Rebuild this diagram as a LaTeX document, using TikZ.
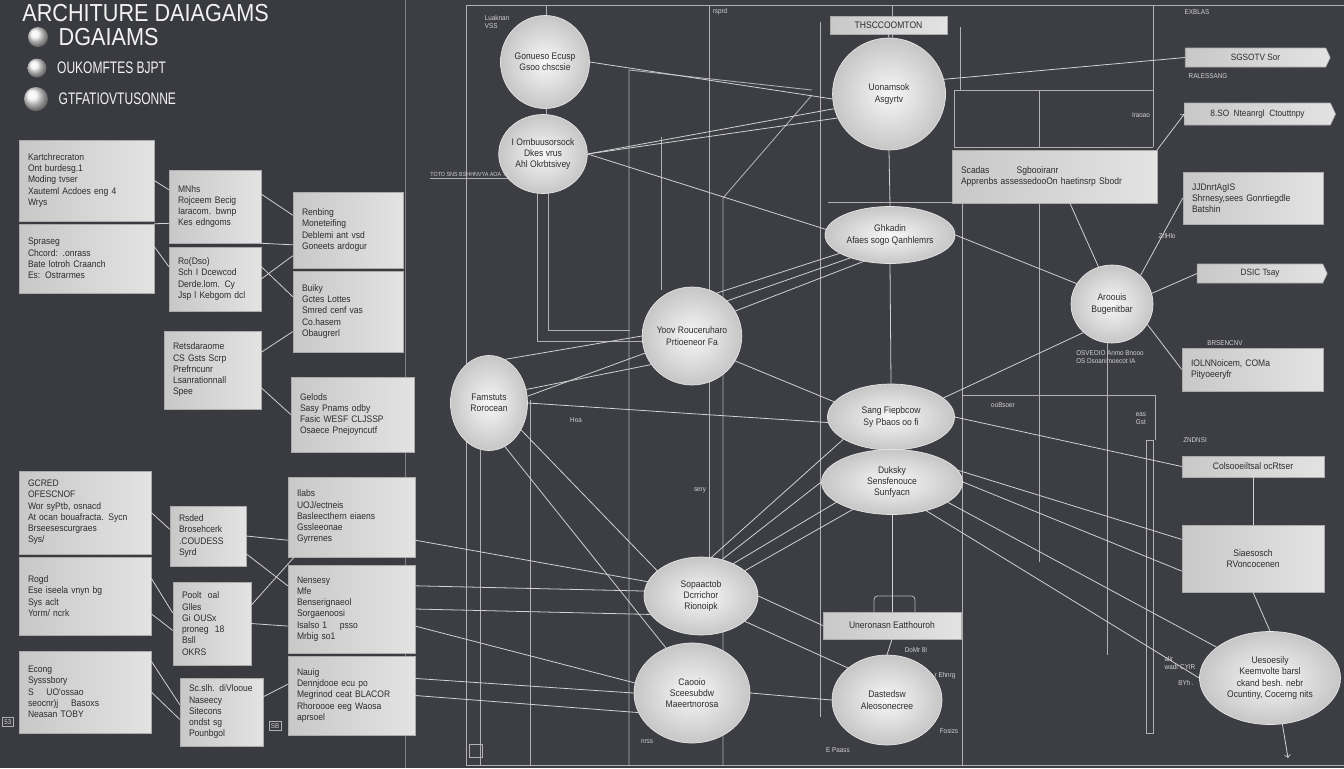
\documentclass[tikz,border=0pt]{standalone}
\usepackage{fontspec}
\setmainfont{Liberation Sans}
\newfontfamily\headfont[FakeStretch=0.88]{Liberation Sans}
\newfontfamily\bulletfont[FakeStretch=0.72]{Liberation Sans}
\newfontfamily\boxfont[FakeStretch=0.9]{Liberation Sans}
\usepackage{xcolor}
\usepackage{tikz}
\definecolor{bgdark}{HTML}{3A3B41}
\definecolor{bgright}{HTML}{3D3E44}
\definecolor{panelL}{HTML}{C8C8C8}
\definecolor{panelR}{HTML}{E3E3E3}
\definecolor{panelEdge}{HTML}{ABABAB}
\definecolor{inkdark}{HTML}{2C2C2C}
\definecolor{wirec}{HTML}{D2D2D2}
\definecolor{rulec}{HTML}{B0B0B6}
\definecolor{ballin}{HTML}{F7F7F7}
\definecolor{ballout}{HTML}{C6C6C6}
\usetikzlibrary{shapes.geometric, shapes.symbols, arrows, positioning, calc}

\begin{document}
\begin{tikzpicture}[
    x=0.02cm, y=-0.02cm,
    panel/.style={rectangle, draw=panelEdge, line width=0.3pt, left color=panelL, right color=panelR, text=inkdark, align=left, font=\boxfont\fontsize{5.4}{6.4}\selectfont, inner xsep=0.18cm, inner ysep=0.1cm},
    bar/.style={rectangle, draw=panelEdge, line width=0.3pt, left color=panelL, right color=panelR, text=inkdark, align=center, font=\boxfont\fontsize{5.4}{6.4}\selectfont, inner sep=0pt},
    tagbox/.style={signal, signal to=east, signal pointer angle=130, draw=panelEdge, line width=0.3pt, left color=panelL, right color=panelR, text=inkdark, font=\boxfont\fontsize{5.2}{6}\selectfont, inner sep=0pt},
    bubble/.style={ellipse, draw=white!80!gray, line width=0.4pt, inner color=ballin, outer color=ballout, text=inkdark, align=center, font=\boxfont\fontsize{5.4}{6.4}\selectfont, inner sep=0pt},
    dot/.style={circle, inner sep=0pt, shading=ball, ball color=gray!10},
    bullettext/.style={anchor=west, inner sep=0pt, text=white!90!gray, font=\bulletfont\fontsize{9.5}{10}\selectfont},
    tag/.style={text=wirec, font=\boxfont\fontsize{4}{4.6}\selectfont, inner sep=1pt, align=left},
    wire/.style={draw=wirec, line width=0.45pt},
    rule/.style={draw=rulec, line width=0.5pt}
]

\fill[bgdark] (0,0) rectangle (1344,768);
\useasboundingbox (0,0) rectangle (1344,768);
\fill[bgright] (405,0) rectangle (1344,768);

\draw[rule, draw=rulec!60!bgdark] (405,0) -- (405,768);
\draw[rule] (466,5) -- (1344,5);
\draw[rule] (466,5) -- (466,765) -- (1344,765);
\draw[rule] (480,450) -- (480,765);
\draw[rule] (530,400) -- (530,765);
\draw[rule] (546,5) -- (546,20);
\draw[rule] (546,100) -- (546,118);
\draw[rule] (537,190) -- (537,341) -- (648,341);
\draw[rule] (548,190) -- (548,330) -- (630,330);
\draw[rule] (629,765) -- (629,70) -- (812,90);
\draw[rule] (661,137) -- (661,290);
\draw[rule] (709,5) -- (709,557);
\draw[rule] (723,765) -- (723,198) -- (812,95);
\draw[rule] (820,22) -- (820,717);
\draw[rule] (892,5) -- (892,40);
\draw[rule] (828,202) -- (962,202) -- (962,765);
\draw[rule] (960,27) -- (960,90);
\draw[rule] (954,90) -- (1153,90);
\draw[rule] (954,90) -- (954,147) -- (1153,147);
\draw[rule] (1039,90) -- (1039,147);
\draw[rule] (1153,5) -- (1153,147);
\draw[rule] (1039,203) -- (1039,562);
\draw[rule] (962,395) -- (1155,395) -- (1155,440);
\draw[rule] (1107,343) -- (1107,655);
\draw[rule] (1146,440) rectangle (1153,733);
\draw[rule, rounded corners=2pt] (874,612) |- (915,596) -- (915,612);
\draw[rule] (430,178) -- (512,178);

\node[anchor=west, inner sep=0pt, text=white!90!gray, font=\headfont\fontsize{14}{15}\selectfont] (title) at (22,13) {ARCHITURE DAIAGAMS};
\node[dot, minimum size=0.4cm] (blt1) at (38,37) {};
\node[bullettext, font=\headfont\fontsize{14}{15}\selectfont, right=0.2cm of blt1] (dgaiams) {DGAIAMS};
\node[dot, minimum size=0.38cm] (blt2) at (37,68) {};
\node[bullettext, right=0.2cm of blt2] (oukomf) {OUKOMFTES BJPT};
\node[dot, minimum size=0.48cm] (blt3) at (36,99) {};
\node[bullettext, right=0.2cm of blt3] (gtfatio) {GTFATIOVTUSONNE};

\node[panel, text width=2.34cm, minimum height=1.62cm] (kartch) at (86.5,180.5) {Kartchrecraton\\ Ont burdesg.1\\ Moding tvser\\ Xauteml Acdoes eng 4\\ Wrys};
\node[panel, text width=2.34cm, minimum height=1.38cm] (spraseg) at (86.5,258.5) {Spraseg\\ Chcord: .onrass\\ Bate lotroh Craanch\\ Es: Ostrarmes};
\node[panel, text width=1.48cm, minimum height=1.46cm] (mnhs) at (215,206.5) {MNhs\\ Rojceem Becig\\ Iaracom. bwnp\\ Kes edngoms};
\node[panel, text width=1.48cm, minimum height=1.28cm] (rodso) at (215,279) {Ro(Dso)\\ Sch I Dcewcod\\ Derde.lom. Cy\\ Jsp l Kebgom dcl};
\node[panel, text width=1.84cm, minimum height=1.52cm] (renbing) at (348,230) {Renbing\\ Moneteifing\\ Deblemi ant vsd\\ Goneets ardogur};
\node[panel, text width=1.84cm, minimum height=1.62cm] (buiky) at (348,311.5) {Buiky\\ Gctes Lottes\\ Smred cenf vas\\ Co.hasem\\ Obaugrerl};
\node[panel, text width=1.58cm, minimum height=1.56cm] (retsdar) at (212.5,370) {Retsdaraome\\ CS Gsts Scrp\\ Prefrncunr\\ Lsanrationnall\\ Spee};
\node[panel, text width=2.10cm, minimum height=1.5cm] (gelods) at (352.5,414.5) {Gelods\\ Sasy Pnams odby\\ Fasic WESF CLJSSP\\ Osaece Pnejoyncutf};
\node[panel, text width=2.28cm, minimum height=1.66cm] (gcred) at (85,512.5) {GCRED\\ OFESCNOF\\ Wor syPtb, osnacd\\ At ocan bouafracta. Sycn\\ Brseesescurgraes\\ Sys/};
\node[panel, text width=2.28cm, minimum height=1.56cm] (rogd) at (85,596) {Rogd\\ Ese iseela vnyn bg\\ Sys aclt\\ Yorm/ ncrk};
\node[panel, text width=2.28cm, minimum height=1.64cm] (econg) at (85,692) {Econg\\ Sysssbory\\ S \quad UO'ossao\\ seocnr)j \quad Basoxs\\ Neasan TOBY};
\node[panel, text width=1.16cm, minimum height=1.2cm] (rsded) at (208,536) {Rsded\\ Brosehcerk\\ .COUDESS\\ Syrd};
\node[panel, text width=1.20cm, minimum height=1.66cm] (poolt) at (212,623.5) {Poolt \ oal\\ Glles\\ Gi OUSx\\ proneg \ 18\\ Bsll\\ OKRS};
\node[panel, text width=1.30cm, minimum height=1.36cm] (scslh) at (221.5,712) {Sc.slh. diVlooue\\ Naseecy\\ Sitecons\\ ondst sg\\ Pounbgol};
\node[panel, text width=2.18cm, minimum height=1.6cm] (ilabs) at (351.5,517) {Ilabs\\ UOJ/ectneis\\ Basleecthern eiaens\\ Gssleeonae\\ Gyrrenes};
\node[panel, text width=2.18cm, minimum height=1.76cm] (nensesy) at (351.5,609) {Nensesy\\ Mfe\\ Benserignaeol\\ Sorgaenoosi\\ Isalso 1 \quad psso\\ Mrbig so1};
\node[panel, text width=2.18cm, minimum height=1.58cm] (nauig) at (351.5,695.5) {Nauig\\ Dennjdooe ecu po\\ Megrinod ceat BLACOR\\ Rhoroooe eeg Waosa\\ aprsoel};

\node[bubble, minimum width=1.78cm, minimum height=1.86cm] (gonueso) at (545,62) {Gonueso Ecusp\\ Gsoo chscsie};
\node[bubble, minimum width=1.58cm, minimum height=1.58cm] (ornbuu) at (543,154) {I Ornbuusorsock\\ Dkes vrus\\ Ahl Okrbtsivey};
\node[bubble, minimum width=2.26cm, minimum height=2.24cm] (uonams) at (889,94) {Uonamsok\\ Asgyrtv};
\node[bubble, minimum width=2.6cm, minimum height=1.14cm] (ghkadin) at (890,235) {Ghkadin\\ Afaes sogo Qanhlemrs};
\node[bubble, minimum width=1.9cm, minimum height=1.96cm] (yoov) at (692,336) {Yoov Rouceruharo\\ Prtioeneor Fa};
\node[bubble, minimum width=1.54cm, minimum height=1.9cm] (famstuts) at (489,403) {Famstuts\\ Rorocean};
\node[bubble, minimum width=2.54cm, minimum height=1.32cm] (sangfie) at (891,417) {Sang Fiepbcow\\ Sy Pbaos oo fi};
\node[bubble, minimum width=2.82cm, minimum height=1.3cm] (duksky) at (892,482) {Duksky\\ Sensfenouce\\ Sunfyacn};
\node[bubble, minimum width=1.64cm, minimum height=1.56cm] (aroouis) at (1112,304) {Aroouis\\ Bugenitbar};
\node[bubble, minimum width=2.28cm, minimum height=1.56cm] (sopaac) at (701,596) {Sopaactob\\ Dcrrichor\\ Rionoipk};
\node[bubble, minimum width=2.32cm, minimum height=2.0cm] (caooio) at (692,693) {Caooio\\ Sceesubdw\\ Maeertnorosa};
\node[bubble, minimum width=2.2cm, minimum height=1.8cm] (dasted) at (887,700) {Dastedsw\\ Aleosonecree};
\node[bubble, minimum width=2.82cm, minimum height=1.86cm] (uesoes) at (1270,678) {Uesoesily\\ Keemvolte barsl\\ ckand besh. nebr\\ Ocuntiny, Cocerng nits};

\node[bar, minimum width=2.34cm, minimum height=0.36cm] (thscco) at (888.5,25) {THSCCOOMTON};
\node[panel, text width=3.74cm, minimum height=1.06cm] (scadas) at (1054.5,176.5) {Scadas \hspace{2.2em} Sgbooiranr\\ Apprenbs assessedooOn haetinsrp Sbodr};
\node[tagbox, minimum width=2.9cm, minimum height=0.38cm] (sgsotv) at (1255.5,57.5) {SGSOTV Sor};
\node[tagbox, minimum width=3.02cm, minimum height=0.44cm] (nteanr) at (1257.5,114) {8.SO \ Nteanrgl \ Ctouttnpy};
\node[panel, text width=2.44cm, minimum height=1.04cm] (jjdnrt) at (1253,198) {JJDnrtAgIS\\ Shrnesy,sees Gonrtiegdle\\ Batshin};
\node[tagbox, minimum width=2.6cm, minimum height=0.38cm] (dsic) at (1260,273.5) {DSIC Tsay};
\node[panel, text width=2.46cm, minimum height=0.86cm] (iolnn) at (1252.5,369.5) {IOLNNoicem, COMa\\ Pityoeeryfr};
\node[bar, minimum width=2.84cm, minimum height=0.42cm] (colsoo) at (1253,466.5) {Colsooeiltsal ocRtser};
\node[bar, minimum width=2.84cm, minimum height=1.34cm] (siaeso) at (1253,558.5) {Siaesosch\\ RVoncocenen};
\node[bar, minimum width=2.76cm, minimum height=0.54cm] (uneron) at (892,625.5) {Uneronasn Eatthouroh};

\node[tag] (tagluak) at (497,22) {Luaknan\\ VSS};
\node[tag] (tagrsprd) at (720,12) {rsprd};
\node[tag] (tagexblas) at (1197,12) {EXBLAS};
\node[tag] (tagrales) at (1208,76) {RALESSANG};
\node[tag] (tagirao) at (1141,115) {Iraoao};
\node[tag] (tagzrl) at (1167,236) {ZrlHlo};
\node[tag] (tagbrsen) at (1225,343) {BRSENCNV};
\node[tag] (tagosveo) at (1110,357) {OSVEOIO Anmo Bnooo\\ OS Dsoanimoecot IA};
\node[tag] (tagoobs) at (1003,405) {ooBsoer};
\node[tag] (tageas) at (1141,419) {eas\\ Gst};
\node[tag] (tagznd) at (1195,440) {ZNDNSI};
\node[tag] (tagdomr) at (916,650) {DoMr 8I};
\node[tag] (tagehnrg) at (945,676) {r Ehnrg};
\node[tag] (tagfosiz) at (949,731) {Fosizs};
\node[tag] (tagalir) at (1180,663) {alir\\ wadr CYIR};
\node[tag] (tagbyh) at (1186,683) {BYh .};
\node[tag] (tagnrss) at (647,742) {nrss};
\node[tag] (tagepaass) at (838,750) {E Paass};
\node[tag] (tagsery) at (700,490) {sery};
\node[tag] (taghoa) at (576,420) {Hoa};
\node[tag, font=\boxfont\fontsize{3.4}{4}\selectfont] (tagtoto) at (470,174) {TOTO SNS BSHHNVYA AOA TE};
\node[tag, draw=rulec] (tag53) at (8,722) {53};
\node[tag, draw=rulec] (tagsb) at (275,726) {SB};
\node[draw=rulec, minimum size=0.26cm, inner sep=0pt] (tagsq) at (476,751) {};

\draw[wire] (kartch.east) -- (mnhs.160);
\draw[wire] (spraseg.north east) -- (mnhs.200);
\draw[wire] (spraseg.10) -- (rodso.165);
\draw[wire] (mnhs.15) -- (renbing.165);
\draw[wire] (mnhs.south east) -- (renbing.195);
\draw[wire] (rodso.15) -- (buiky.165);
\draw[wire] (rodso.east) -- (renbing.205);
\draw[wire] (retsdar.20) -- (buiky.200);
\draw[wire] (retsdar.340) -- (gelods.west);
\draw[wire] (gcred.east) -- (rsded.170);
\draw[wire] (rogd.15) -- (poolt.165);
\draw[wire] (rogd.345) -- (poolt.190);
\draw[wire] (econg.25) -- (scslh.170);
\draw[wire] (econg.east) -- (scslh.190);
\draw[wire] (rsded.east) -- (ilabs.200);
\draw[wire] (rsded.335) -- (nensesy.160);
\draw[wire] (poolt.25) -- (ilabs.215);
\draw[wire] (poolt.east) -- (nensesy.195);
\draw[wire] (scslh.20) -- (nauig.170);

\draw[wire] (ilabs.340) -- (sopaac.165);
\draw[wire] (nensesy.20) -- (sopaac.175);
\draw[wire] (nensesy.east) -- (sopaac.200);
\draw[wire] (nensesy.345) -- (caooio.170);
\draw[wire] (nauig.15) -- (caooio.180);
\draw[wire] (nauig.east) -- (caooio.200);
\draw[wire] (famstuts.290) -- (caooio.120);
\draw[wire] (famstuts.320) -- (sopaac.150);

\draw[wire] (gonueso.east) -- (uonams.185);
\draw[wire] (ornbuu.east) -- (uonams.195);
\draw[wire] (ornbuu.east) -- (uonams.205);
\draw[wire] (ornbuu.east) -- (ghkadin.175);
\draw[wire] (uonams.15) -- (sgsotv.west);
\draw[wire, ->] (scadas.north east) -- (nteanr.west);
\draw[wire] (thscco.south) -- (uonams.north);
\draw[wire] (uonams.south) -- (ghkadin.north);
\draw[wire] (ghkadin.south) -- (sangfie.north);
\draw[wire] (duksky.south) -- (uneron.north);
\draw[wire] (uneron.south) -- (dasted.north);
\draw[wire] (yoov.60) -- (ghkadin.200);
\draw[wire] (yoov.45) -- (ghkadin.210);
\draw[wire] (yoov.30) -- (ghkadin.225);
\draw[wire] (famstuts.10) -- (yoov.200);
\draw[wire] (famstuts.20) -- (yoov.215);
\draw[wire] (famstuts.70) -- (yoov.180);
\draw[wire] (famstuts.east) -- (sangfie.185);
\draw[wire] (yoov.330) -- (sangfie.165);
\draw[wire] (sopaac.75) -- (sangfie.205);
\draw[wire] (sopaac.60) -- (duksky.180);
\draw[wire] (sopaac.45) -- (duksky.200);
\draw[wire] (sopaac.30) -- (duksky.215);
\draw[wire] (sopaac.east) -- (uneron.west);
\draw[wire] (sopaac.330) -- (dasted.north west);
\draw[wire] (caooio.east) -- (dasted.west);
\draw[wire] (ghkadin.east) -- (aroouis.150);
\draw[wire] (scadas.300) -- (aroouis.110);
\draw[wire] (aroouis.45) -- (jjdnrt.west);
\draw[wire] (aroouis.15) -- (dsic.west);
\draw[wire] (aroouis.330) -- (iolnn.west);
\draw[wire] (aroouis.225) -- (sangfie.20);
\draw[wire] (sangfie.east) -- (colsoo.west);
\draw[wire] (duksky.10) -- (siaeso.165);
\draw[wire] (duksky.east) -- (siaeso.190);
\draw[wire] (duksky.340) -- (uesoes.150);
\draw[wire] (duksky.320) -- (uesoes.west);
\draw[wire] (colsoo.south) -- (siaeso.north);
\draw[wire] (siaeso.south) -- (uesoes.north);
\coordinate (uesend) at (1288,758);
\draw[wire, ->] (uesoes.285) -- (uesend);

\end{tikzpicture}
\end{document}
